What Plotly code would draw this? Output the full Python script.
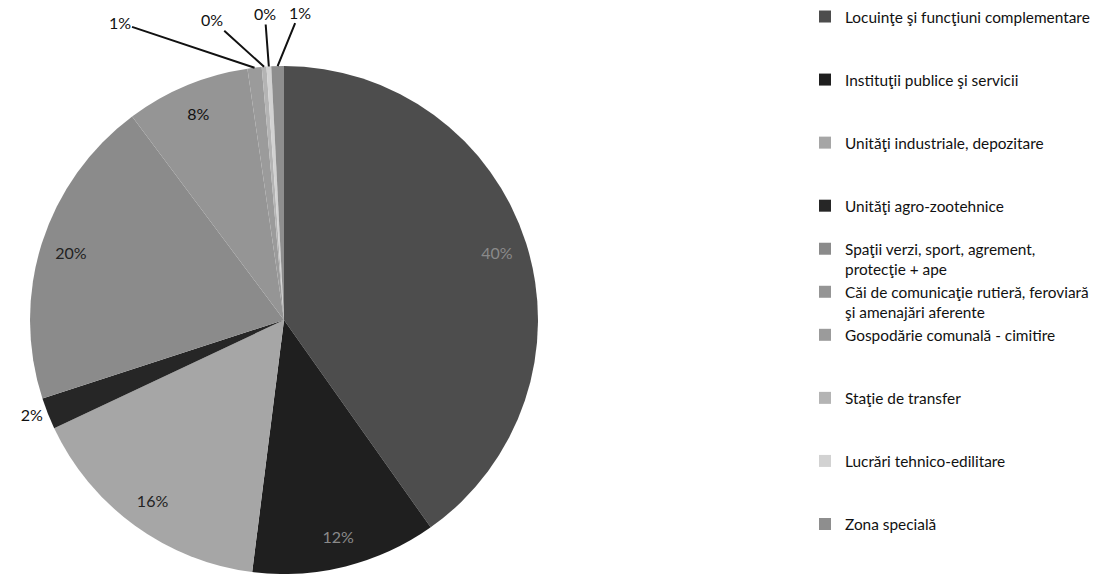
import math
import plotly.graph_objects as go

categories = [
    "Locuinţe şi funcţiuni complementare",
    "Instituţii publice şi servicii",
    "Unităţi industriale, depozitare",
    "Unităţi agro-zootehnice",
    "Spaţii verzi, sport, agrement,<br>protecţie + ape",
    "Căi de comunicaţie rutieră, feroviară<br>şi amenajări aferente",
    "Gospodărie comunală - cimitire",
    "Staţie de transfer",
    "Lucrări tehnico-edilitare",
    "Zona specială",
]
shares = [40.2, 11.8, 16.0, 2.0, 19.8, 7.9, 0.9, 0.3, 0.3, 0.8]

# ---------------- styling ----------------
colors = ["#4d4d4d", "#1f1f1f", "#a6a6a6", "#262626", "#8b8b8b",
          "#959595", "#9b9b9b", "#b4b4b4", "#d2d2d2", "#8e8e8e"]
legend_lines = [3, 3, 3, 2, 2, 2, 3, 3, 3, 1]
legend_names = [c + "<br> " * (n - 1 - c.count("<br>")) for c, n in zip(categories, legend_lines)]
text_pos = ["inside", "inside", "inside", "outside", "inside", "inside",
            "none", "none", "none", "none"]
text_col = ["#8a8a8a", "#8a8a8a", "#222222", "#111111", "#222222", "#111111",
            "#111111", "#111111", "#111111", "#111111"]
# leader-label offsets (pixels) for the tiny slices at the top
callout_offsets = {6: (-135, -45), 7: (-52, -47), 8: (-4, -53), 9: (22, -54)}

W, H = 1098, 574
dom = dict(x=[30 / W, 538 / W], y=[0, 508 / H])

fig = go.Figure()
fig.add_trace(go.Pie(
    labels=legend_names,
    values=shares,
    sort=False,
    direction="clockwise",
    rotation=0,
    marker=dict(colors=colors, line=dict(width=0)),
    textinfo="none",
    domain=dom,
    hoverinfo="label+percent",
))
fig.add_trace(go.Pie(
    labels=legend_names,
    values=shares,
    sort=False,
    direction="clockwise",
    rotation=0,
    hole=0.76,
    marker=dict(colors=["rgba(0,0,0,0)"] * len(shares), line=dict(width=0)),
    texttemplate="%{percent:.0%}",
    textposition=text_pos,
    insidetextorientation="horizontal",
    textfont=dict(family="Lato", size=16, color=text_col),
    domain=dom,
    showlegend=False,
    hoverinfo="skip",
))

# callout labels for the tiny slices, anchored on the rim at each slice's mid-angle
total = sum(shares)
cx = (dom["x"][0] + dom["x"][1]) / 2 * W
cy = H - (dom["y"][0] + dom["y"][1]) / 2 * H
r = min((dom["x"][1] - dom["x"][0]) * W, (dom["y"][1] - dom["y"][0]) * H) / 2
cum = 0.0
for i, v in enumerate(shares):
    mid = (cum + v / 2) / total * 2 * math.pi
    cum += v
    if i in callout_offsets:
        px = cx + r * math.sin(mid)
        py = cy - r * math.cos(mid)
        ax, ay = callout_offsets[i]
        fig.add_annotation(
            x=px / W, y=1 - py / H, xref="paper", yref="paper",
            text=f"{round(v / total * 100):.0f}%",
            showarrow=True, arrowhead=0, arrowwidth=2, arrowcolor="#111111",
            ax=ax, ay=ay, standoff=0,
            font=dict(family="Lato", size=16, color="#111111"),
        )

fig.update_layout(
    width=W, height=H,
    margin=dict(l=0, r=0, t=0, b=0, autoexpand=False),
    paper_bgcolor="white",
    plot_bgcolor="white",
    font=dict(family="Lato", color="#111111"),
    showlegend=True,
    legend=dict(
        x=805 / W, y=1.0, xanchor="left", yanchor="top",
        valign="top",
        maxheight=1,
        font=dict(family="Lato", size=15.4, color="#111111"),
        bgcolor="rgba(0,0,0,0)",
        itemclick=False,
    ),
)

fig.write_html("out.html", config={"displayModeBar": False},
               post_script="document.body.style.margin='0';")
